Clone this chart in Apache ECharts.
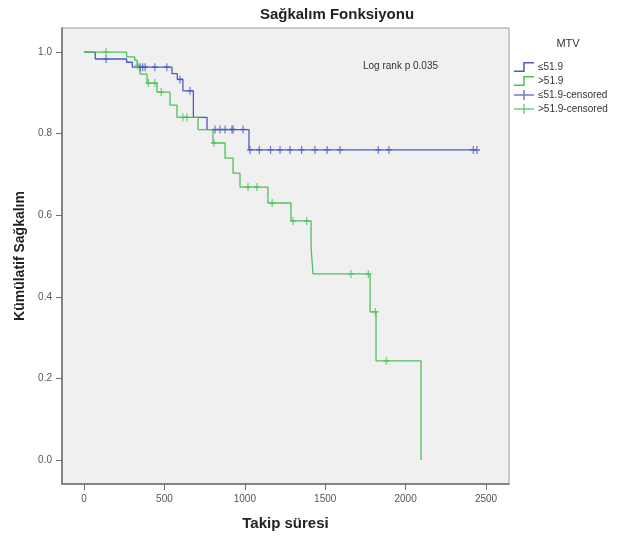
<!DOCTYPE html>
<html>
<head>
<meta charset="utf-8">
<script src="https://cdn.jsdelivr.net/npm/echarts@6/dist/echarts.min.js"></script>
<style>
html,body{margin:0;padding:0;background:#fff;}
#chart{width:629px;height:542px;}
</style>
</head>
<body>
<div id="chart"></div>
<script>
// ---- data ----
var xTicks = [0, 500, 1000, 1500, 2000, 2500];
var yTicks = [0, 0.2, 0.4, 0.6, 0.8, 1.0];

// Group ≤51.9 (blue): step times and survival
var lowTimes = [0, 70, 265, 300, 547, 580, 615, 680, 765, 1026, 2444];
var lowSurv  = [1.0, 0.983, 0.975, 0.963, 0.947, 0.933, 0.905, 0.84, 0.81, 0.76, 0.76];
var lowCensTimes = [137, 350, 365, 380, 440, 515, 597, 659, 815, 846, 877, 920, 927, 989,
                    1032, 1090, 1160, 1219, 1281, 1353, 1436, 1512, 1592, 1830, 1896, 2421, 2444];
var lowCensSurv  = [0.983, 0.963, 0.963, 0.963, 0.963, 0.963, 0.933, 0.905, 0.81, 0.81, 0.81, 0.81, 0.81, 0.81,
                    0.76, 0.76, 0.76, 0.76, 0.76, 0.76, 0.76, 0.76, 0.76, 0.76, 0.76, 0.76, 0.76];

// Group >51.9 (green)
var highTimes = [0, 265, 315, 330, 348, 392, 454, 535, 578, 709, 802, 877, 927, 970, 1144, 1287, 1412, 1424, 1779, 1816, 2096];
var highSurv  = [1.0, 0.988, 0.98, 0.967, 0.946, 0.924, 0.902, 0.87, 0.84, 0.81, 0.777, 0.74, 0.703, 0.669, 0.63, 0.586, 0.522, 0.456, 0.363, 0.243, 0.0];
var highCensTimes = [137, 335, 400, 440, 480, 615, 640, 808, 1020, 1075, 1170, 1300, 1385, 1660, 1768, 1812, 1880];
var highCensSurv  = [1.0, 0.967, 0.924, 0.924, 0.902, 0.84, 0.84, 0.777, 0.669, 0.669, 0.63, 0.586, 0.586, 0.456, 0.456, 0.363, 0.243];

var seriesNames = ['≤51.9', '>51.9', '≤51.9-censored', '>51.9-censored'];

// ---- chart ----
function pairs(xs, ys){ return xs.map(function(x,i){ return [x, ys[i]]; }); }
var BLUE = '#4a5cbf', GREEN = '#4cc25a';
var plusPath = 'path://M4,0h2v4h4v2h-4v4h-2v-4h-4v-2h4z';
var stepIcon = 'path://M0,8.5h9.2v-8.5h10.8v1.5h-9.3v8.5h-10.7z';
var censIcon = 'path://M0,4.25h9.25v-4.25h1.5v4.25h9.25v1.5h-9.25v4.25h-1.5v-4.25h-9.25z';

var chart = echarts.init(document.getElementById('chart'), null, {renderer:'canvas'});
chart.setOption({
  animation: false,
  backgroundColor: '#ffffff',
  textStyle: { fontFamily: 'Liberation Sans, Arial, sans-serif' },
  grid: { left: 62, top: 28, right: 120, bottom: 58, show: true, backgroundColor: '#f0f0f0', borderColor: '#9a9a9a', borderWidth: 1 },
  xAxis: {
    type: 'value', min: -137, max: 2643,
    name: 'Takip süresi', nameLocation: 'middle', nameGap: 32,
    nameTextStyle: { fontSize: 15, fontWeight: 'bold', color: '#222' },
    axisLine: { show: true, onZero: false, lineStyle: { color: '#6e6e6e', width: 1.5 } },
    axisTick: { show: true, length: 6, customValues: xTicks, lineStyle: { color: '#6e6e6e' } },
    axisLabel: { customValues: xTicks, fontSize: 10, color: '#555', margin: 10,
                 formatter: function(v){ return String(v); } },
    splitLine: { show: false }
  },
  yAxis: {
    type: 'value', min: -0.059, max: 1.059,
    name: 'Kümülatif Sağkalım', nameLocation: 'middle', nameGap: 34, nameRotate: 90,
    nameTextStyle: { fontSize: 14, fontWeight: 'bold', color: '#222' },
    axisLine: { show: true, onZero: false, lineStyle: { color: '#6e6e6e', width: 1.5 } },
    axisTick: { show: true, length: 6, customValues: yTicks, lineStyle: { color: '#6e6e6e' } },
    axisLabel: { customValues: yTicks, fontSize: 10, color: '#555', margin: 10,
                 formatter: function(v){ return v.toFixed(1); } },
    splitLine: { show: false }
  },
  legend: {
    orient: 'vertical', left: 509, top: 57, itemWidth: 22, itemHeight: 10, itemGap: 4,
    textStyle: { fontSize: 10, color: '#333', padding: [0,0,0,-2] },
    data: [
      { name: seriesNames[0], icon: stepIcon, itemStyle: { color: BLUE } },
      { name: seriesNames[1], icon: stepIcon, itemStyle: { color: GREEN } },
      { name: seriesNames[2], icon: censIcon, itemStyle: { color: BLUE } },
      { name: seriesNames[3], icon: censIcon, itemStyle: { color: GREEN } }
    ]
  },
  graphic: [
    { type: 'text', x: 337, y: 15, style: { text: 'Sağkalım Fonksiyonu', font: 'bold 15px Liberation Sans, Arial, sans-serif', fill: '#222', textAlign: 'center', textVerticalAlign: 'middle' } },
    { type: 'text', x: 568, y: 44, style: { text: 'MTV', font: '11px Liberation Sans, Arial, sans-serif', fill: '#333', textAlign: 'center', textVerticalAlign: 'middle' } },
    { type: 'text', x: 363, y: 66, style: { text: 'Log rank p 0.035', font: '10px Liberation Sans, Arial, sans-serif', fill: '#333', textAlign: 'left', textVerticalAlign: 'middle' } }
  ],
  series: [
    { name: seriesNames[0], type: 'line', step: 'end', data: pairs(lowTimes, lowSurv), showSymbol: false,
      lineStyle: { color: BLUE, width: 1.3 }, itemStyle: { color: BLUE }, z: 2 },
    { name: seriesNames[1], type: 'line', step: 'end', data: pairs(highTimes, highSurv), showSymbol: false,
      lineStyle: { color: GREEN, width: 1.3 }, itemStyle: { color: GREEN }, z: 3 },
    { name: seriesNames[2], type: 'scatter', data: pairs(lowCensTimes, lowCensSurv), symbol: plusPath, symbolSize: [6, 8],
      itemStyle: { color: BLUE }, z: 4 },
    { name: seriesNames[3], type: 'scatter', data: pairs(highCensTimes, highCensSurv), symbol: plusPath, symbolSize: [6, 8],
      itemStyle: { color: GREEN }, z: 5 }
  ]
});
</script>
</body>
</html>
